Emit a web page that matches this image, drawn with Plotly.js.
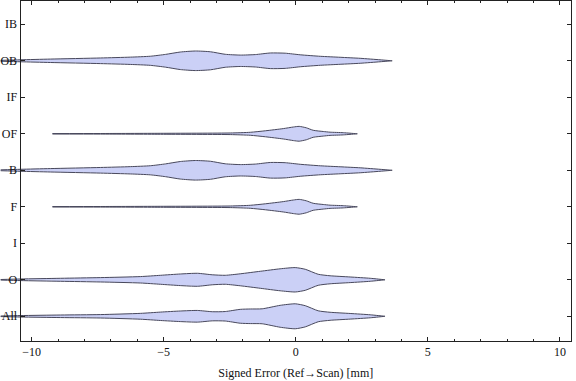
<!DOCTYPE html>
<html>
<head>
<meta charset="utf-8">
<script src="https://cdn.plot.ly/plotly-3.0.1.min.js"></script>
<style>html,body{margin:0;padding:0;background:#fff;}#chart{width:576px;height:381px;}</style>
</head>
<body>
<div id="chart"></div>
<script>
// Categories (bottom to top) and their positions
const categories = ['All', 'O', 'I', 'F', 'B', 'OF', 'IF', 'OB', 'IB'];
const catPos = [1, 2, 3, 4, 5, 6, 7, 8, 9];

// X tick values
const xTicks = [-10, -5, 0, 5, 10];

// Smoothed density profiles: x (mm) and half-width (category units)
const obX = [-11.17, -10.42, -9.28, -7.39, -6.26, -5.50, -4.93, -4.37, -3.80, -3.23, -2.67, -2.10, -1.53, -0.96, -0.40, 0.17, 0.93, 1.68, 2.44, 3.19, 3.65];
const obW = [0.012, 0.027, 0.047, 0.077, 0.100, 0.125, 0.175, 0.240, 0.268, 0.247, 0.178, 0.156, 0.170, 0.214, 0.208, 0.164, 0.123, 0.096, 0.068, 0.027, 0];

const bX = [-11.17, -10.42, -9.28, -7.39, -6.26, -5.50, -4.93, -4.37, -3.80, -3.23, -2.67, -2.10, -1.53, -0.96, -0.40, 0.17, 0.93, 1.68, 2.44, 3.19, 3.65];
const bW = [0.012, 0.027, 0.047, 0.077, 0.100, 0.125, 0.175, 0.240, 0.268, 0.247, 0.178, 0.156, 0.170, 0.214, 0.208, 0.164, 0.123, 0.096, 0.068, 0.027, 0];

const ofX = [-9.21, -7.39, -5.12, -2.48, -1.72, -1.15, -0.47, -0.09, 0.13, 0.40, 0.66, 1.04, 1.30, 1.80, 2.33];
const ofW = [0.006, 0.008, 0.013, 0.022, 0.041, 0.082, 0.142, 0.186, 0.203, 0.164, 0.096, 0.063, 0.044, 0.030, 0];

const fX = [-9.21, -7.39, -5.12, -2.48, -1.72, -1.15, -0.47, -0.09, 0.13, 0.40, 0.66, 1.04, 1.30, 1.80, 2.33];
const fW = [0.006, 0.008, 0.013, 0.022, 0.041, 0.082, 0.142, 0.186, 0.203, 0.164, 0.096, 0.063, 0.044, 0.030, 0];

const oX = [-11.17, -10.42, -8.90, -7.39, -5.88, -5.12, -4.37, -3.72, -3.16, -2.67, -2.10, -1.34, -0.59, -0.02, 0.36, 0.85, 1.30, 2.06, 2.82, 3.38];
const oW = [0.008, 0.022, 0.041, 0.060, 0.088, 0.123, 0.159, 0.178, 0.137, 0.123, 0.164, 0.233, 0.301, 0.334, 0.288, 0.151, 0.110, 0.077, 0.041, 0];

const allX = [-11.17, -10.42, -8.90, -7.39, -5.88, -5.12, -4.37, -3.72, -3.16, -2.67, -2.10, -1.72, -1.27, -0.59, -0.02, 0.36, 0.85, 1.30, 2.06, 2.82, 3.38];
const allW = [0.008, 0.020, 0.035, 0.047, 0.080, 0.115, 0.145, 0.160, 0.125, 0.130, 0.190, 0.200, 0.205, 0.300, 0.342, 0.290, 0.150, 0.110, 0.077, 0.041, 0];

const violins = [
  {cat: 'All', x: allX, w: allW},
  {cat: 'O', x: oX, w: oW},
  {cat: 'F', x: fX, w: fW},
  {cat: 'B', x: bX, w: bW},
  {cat: 'OF', x: ofX, w: ofW},
  {cat: 'OB', x: obX, w: obW}
];

const fillColor = 'rgb(203,208,246)';
const edgeColor = 'rgb(72,72,92)';
const font = {family: 'Liberation Serif, Times New Roman, serif', size: 12, color: '#111'};

const xRange = [-10.42, 10.42];
const yRange = [0.323, 9.638];
const W = 576;
const dom = [20.5 / W, 571 / W];
// wider hidden axis so the violins may run past the frame, as in the original
const span = (xRange[1] - xRange[0]) / (dom[1] - dom[0]);
const x2Range = [xRange[0] - dom[0] * span, xRange[1] + (1 - dom[1]) * span];

const traces = violins.map(v => {
  const c = catPos[categories.indexOf(v.cat)];
  const xs = v.x.concat(v.x.slice().reverse());
  const ys = v.w.map(h => c + h).concat(v.w.slice().reverse().map(h => c - h));
  return {
    type: 'scatter', mode: 'lines', x: xs, y: ys,
    fill: 'toself', fillcolor: fillColor,
    line: {color: edgeColor, width: 1, shape: 'spline', smoothing: 0.6},
    xaxis: 'x', yaxis: 'y', hoverinfo: 'skip', showlegend: false
  };
});

// invisible trace to keep the frame axes active
traces.push({type: 'scatter', mode: 'markers', x: [0], y: [1], marker: {opacity: 0}, xaxis: 'x2', yaxis: 'y2', showlegend: false, hoverinfo: 'skip'});

const layout = {
  width: 576, height: 381, autosize: false,
  margin: {l: 0, r: 0, t: 1, b: 40},
  paper_bgcolor: '#fff', plot_bgcolor: 'rgba(0,0,0,0)',
  showlegend: false,
  font: font,
  // hidden, full-width axes carrying the violins
  xaxis: {domain: [0, 1], range: x2Range, visible: false, anchor: 'y', showgrid: false, zeroline: false},
  yaxis: {domain: [0, 1], range: yRange, visible: false, anchor: 'x', showgrid: false, zeroline: false},
  // frame axes
  xaxis2: {
    domain: dom, range: xRange, tickmode: 'array', tickvals: xTicks,
    ticks: 'inside', ticklen: 4, tickwidth: 1, tickcolor: '#222',
    minor: {ticks: 'inside', ticklen: 2, dtick: 1, tick0: 0, tickcolor: '#222', showgrid: false},
    mirror: 'allticks', showline: true, linecolor: '#222', linewidth: 1,
    showgrid: false, zeroline: false, tickfont: font,
    title: {text: 'Signed Error (Ref\u2192Scan) [mm]', font: font, standoff: 10},
    anchor: 'y2'
  },
  yaxis2: {
    domain: [0, 1], range: yRange, tickmode: 'array', tickvals: catPos, ticktext: categories,
    ticks: 'inside', ticklen: 4, tickwidth: 1, tickcolor: '#222',
    mirror: 'allticks', showline: true, linecolor: '#222', linewidth: 1,
    showgrid: false, zeroline: false, tickfont: font, anchor: 'x2'
  }
};

Plotly.newPlot('chart', traces, layout, {staticPlot: true, displayModeBar: false});
</script>
</body>
</html>
